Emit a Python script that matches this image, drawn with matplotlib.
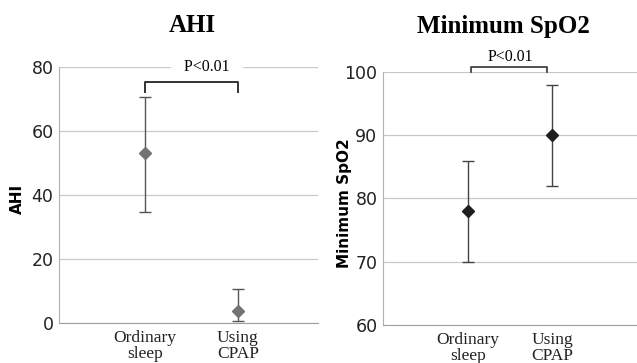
import numpy as np
import matplotlib.pyplot as plt

# data
groups = ["Ordinary\nsleep", "Using\nCPAP"]
ahi_mean = [53, 3.8]
ahi_upper = [70.5, 10.5]
ahi_lower = [34.8, 0.5]
spo2_mean = [78, 90]
spo2_upper = [86, 98]
spo2_lower = [70, 82]
p_text = "P<0.01"

serif = ["Liberation Serif", "DejaVu Serif"]
sans = ["DejaVu Sans"]

fig = plt.figure(figsize=(6.37, 3.63), dpi=100)
fig.patch.set_facecolor("white")


def panel(rect, mean, lower, upper, ylim, yticks, xlim, mcolor, ecolor, ylabel, lab_x):
    ax = fig.add_axes(rect)
    x = np.arange(1, len(mean) + 1)
    mean = np.array(mean)
    yerr = [mean - np.array(lower), np.array(upper) - mean]
    ax.errorbar(x, mean, yerr=yerr, fmt="D", ms=6.5, color=mcolor, mec=mcolor,
                ecolor=ecolor, elinewidth=1.0, capsize=4, capthick=1.0, zorder=3)
    ax.set_xlim(*xlim)
    ax.set_ylim(*ylim)
    ax.set_yticks(yticks)
    ax.set_xticks(x)
    ax.set_xticklabels(groups, family=serif, fontsize=12.5, linespacing=0.98, color="#222222")
    for lab in ax.get_yticklabels():
        lab.set_family(sans)
        lab.set_fontsize(12.5)
        lab.set_color("#222222")
    ax.tick_params(axis="both", length=0)
    ax.tick_params(axis="y", pad=4)
    ax.tick_params(axis="x", pad=5)
    ax.grid(axis="y", color="#c8c8c8", lw=0.9)
    ax.set_axisbelow(True)
    for s in ["top", "right"]:
        ax.spines[s].set_visible(False)
    ax.spines["left"].set_color("#b0b0b0")
    ax.spines["bottom"].set_color("#a0a0a0")
    ax.set_ylabel(ylabel, family=sans, fontsize=11, fontweight="bold")
    ax.yaxis.set_label_coords(lab_x, 0.483)
    return ax


ax1 = panel([0.0926, 0.1102, 0.4066, 0.7052], ahi_mean, ahi_lower, ahi_upper,
            (0, 80), [0, 20, 40, 60, 80], (0.075, 2.861), "#737373", "#555555", "AHI", -0.131)
ax2 = panel([0.6013, 0.1047, 0.3987, 0.697], spo2_mean, spo2_lower, spo2_upper,
            (60, 100), [60, 70, 80, 90, 100], (0, 3), "#1e1e1e", "#444444", "Minimum SpO2", -0.122)

# titles
fig.text(192 / 637, 1 - 26 / 363, "AHI", family=serif, fontsize=18,
         fontweight="bold", ha="center", va="center")
fig.text(503 / 637, 1 - 26 / 363, "Minimum SpO2", family=serif, fontsize=18,
         fontweight="bold", ha="center", va="center")

# significance brackets
ax1.plot([1, 1, 2, 2], [72.3, 75.4, 75.4, 72.3], color="#333333", lw=1.4, clip_on=False)
ax1.text(1.667, 80.1, "   " + p_text + "   ", family=serif, fontsize=11.5, ha="center",
         va="center", bbox=dict(facecolor="white", edgecolor="none", pad=1))
ax2.plot([1.04, 1.04, 1.94, 1.94], [100, 100.8, 100.8, 100], color="#333333", lw=1.2,
         clip_on=False)
ax2.text(1.51, 102.4, p_text, family=serif, fontsize=11.5, ha="center", va="center")

fig.savefig("out.png", dpi=100)
